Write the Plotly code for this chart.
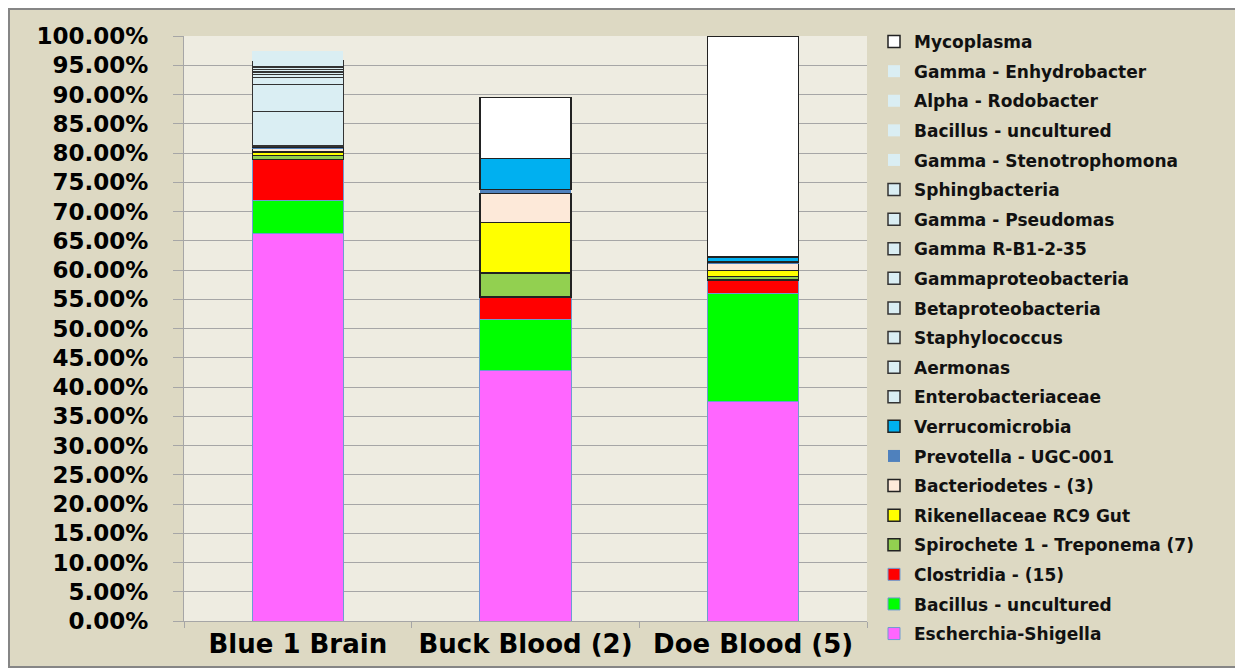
import plotly.graph_objects as go

# samples on the x axis
samples = ['Blue 1 Brain', 'Buck Blood (2)', 'Doe Blood (5)']

# taxa, bottom of the stack first
taxa = [
    'Escherchia-Shigella', 'Bacillus - uncultured', 'Clostridia - (15)',
    'Spirochete 1 - Treponema (7)', 'Rikenellaceae RC9 Gut', 'Bacteriodetes - (3)',
    'Prevotella - UGC-001', 'Verrucomicrobia', 'Enterobacteriaceae', 'Aermonas',
    'Staphylococcus', 'Betaproteobacteria', 'Gammaproteobacteria', 'Gamma R-B1-2-35',
    'Gamma - Pseudomas', 'Sphingbacteria', 'Gamma - Stenotrophomona',
    'Bacillus - uncultured', 'Alpha - Rodobacter', 'Gamma - Enhydrobacter', 'Mycoplasma',
]

# relative abundance per sample (Blue 1 Brain, Buck Blood, Doe Blood), None = absent
escherchia = [0.663, 0.429, 0.376]
bacillus = [0.056, 0.086, 0.184]
clostridia = [0.070, 0.039, 0.023]
spirochete = [0.007, 0.041, 0.0055]
rikenellaceae = [0.006, 0.086, 0.0105]
bacteriodetes = [0.0055, 0.050, 0.012]
prevotella = [0.002, 0.007, 0.0025]
verrucomicrobia = [0.0025, 0.053, 0.009]
enterobacteriaceae = [0.059, None, None]
aermonas = [0.046, None, None]
staphylococcus = [0.012, None, None]
betaproteo = [0.005, None, None]
gammaproteo = [0.0045, None, None]
gamma_rb1 = [0.004, None, None]
pseudomas = [0.0045, None, None]
sphingbacteria = [0.011, None, None]
stenotrophomona = [0.004, None, None]
bacillus_2 = [0.004, None, None]
rodobacter = [0.004, None, None]
enhydrobacter = [0.004, None, None]
mycoplasma = [None, 0.104, 0.3775]

values = [escherchia, bacillus, clostridia, spirochete, rikenellaceae, bacteriodetes,
          prevotella, verrucomicrobia, enterobacteriaceae, aermonas, staphylococcus,
          betaproteo, gammaproteo, gamma_rb1, pseudomas, sphingbacteria,
          stenotrophomona, bacillus_2, rodobacter, enhydrobacter, mycoplasma]

LB = '#daeef3'
BL = '#6f9bd1'
DK = '#222222'
# (fill, outline colour, outline width)
styles = [
    ('#ff66ff', BL, 1), ('#00ff00', BL, 1), ('#ff0000', BL, 1),
    ('#92d050', DK, 1.5), ('#ffff00', DK, 1.5), ('#fde9d9', DK, 1.5),
    ('#4f81bd', '#4f81bd', 0), ('#00b0f0', DK, 1.5),
    (LB, '#333333', 1.5), (LB, '#333333', 1.5), (LB, '#333333', 1.5), (LB, '#333333', 1.5),
    (LB, '#333333', 1.5), (LB, '#333333', 1.5), (LB, '#333333', 1.5), (LB, '#333333', 1.5),
    (LB, LB, 0), (LB, LB, 0), (LB, LB, 0), (LB, LB, 0),
    ('#ffffff', DK, 1.5),
]

FONT = 'DejaVu Sans'

fig = go.Figure()
for i, (name, vals, st) in enumerate(zip(taxa, values, styles)):
    fig.add_trace(go.Bar(
        x=samples, y=vals, name=name, legendgroup=f'g{i}', legendrank=1000 - i,
        marker=dict(color=st[0], line=dict(color=st[1], width=st[2])),
    ))

# figure is 1235x663 (page adds 8px offset); plot area at x 176..859, y 28..613
W, H = 683, 585
def px(x):
    return (x - 176) / W
def py(y):
    return (613 - y) / H

fig.update_layout(
    width=1235, height=663,
    margin=dict(l=176, r=376, t=28, b=50),
    barmode='stack', bargap=0.6,
    paper_bgcolor='white', plot_bgcolor='rgba(0,0,0,0)',
    font=dict(family=FONT, color='black'),
    shapes=[
        dict(type='rect', xref='paper', yref='paper', layer='below',
             x0=px(1), x1=px(1229), y0=py(659), y1=py(1),
             fillcolor='#ddd9c3', line=dict(color='#868686', width=2)),
        dict(type='rect', xref='paper', yref='paper', layer='below',
             x0=0, x1=1, y0=0, y1=1, fillcolor='#eeece1', line=dict(width=0)),
    ],
    legend=dict(
        x=px(866), y=py(16), xanchor='left', yanchor='top',
        traceorder='grouped', tracegroupgap=4.5,
        bgcolor='rgba(0,0,0,0)',
        font=dict(family=FONT, size=17, color='#111111', weight='bold'),
    ),
)
try:
    fig.update_layout(legend_maxheight=1)
except ValueError:
    pass

fig.update_yaxes(
    range=[0, 1], dtick=0.05, tickformat='.2%',
    showgrid=True, gridcolor='#a6a6a6', gridwidth=1,
    showline=True, linecolor='#a6a6a6', linewidth=1,
    ticks='outside', ticklen=10, tickcolor='#a6a6a6', ticklabelstandoff=20,
    tickfont=dict(family=FONT, size=23, weight='bold'),
    zeroline=False,
)
fig.update_xaxes(
    showline=True, linecolor='#a6a6a6', linewidth=1,
    ticks='outside', tickson='boundaries', ticklen=6, tickcolor='#a6a6a6',
    tickfont=dict(family=FONT, size=26, weight='bold'),
)

fig.write_html('out.html')
